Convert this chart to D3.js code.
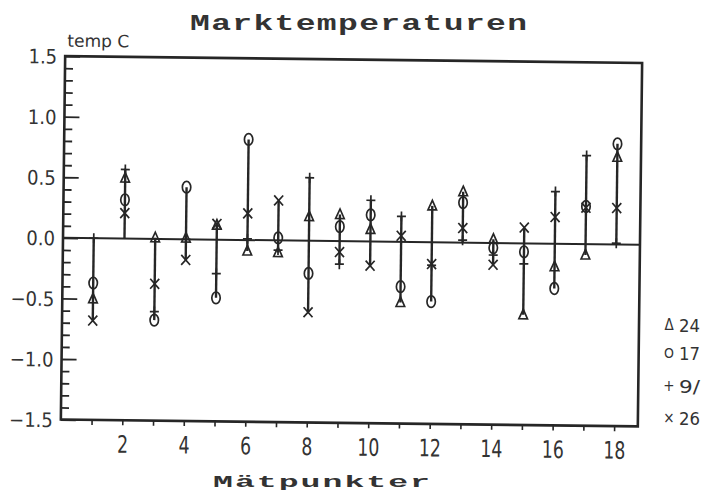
<!DOCTYPE html>
<html><head><meta charset="utf-8">
<script src="https://cdn.jsdelivr.net/npm/d3@7"></script>
<style>body{margin:0;background:#fff}svg{display:block}</style>
</head><body>
<svg id="c" width="718" height="493"></svg>
<script>
// ---- data ----
const points = [1,2,3,4,5,6,7,8,9,10,11,12,13,14,15,16,17,18];
const tri24  = [-0.50,0.50,0.01,0.01,0.12,-0.09,-0.10,0.20,0.22,0.10,-0.50,0.30,0.42,0.03,-0.59,-0.19,-0.09,0.72];
const circ17 = [-0.37,0.32,-0.67,0.43,-0.48,0.83,0.02,-0.27,0.12,0.22,-0.37,-0.49,0.33,-0.04,-0.07,-0.37,0.31,0.83];
const plus9  = [0.00,0.57,-0.60,0.00,-0.28,0.01,-0.08,0.52,-0.19,0.34,0.21,-0.19,0.02,-0.10,-0.17,0.43,0.73,0.01];
const x26    = [-0.68,0.21,-0.37,-0.17,0.13,0.22,0.33,-0.59,-0.09,-0.20,0.05,-0.18,0.12,-0.18,0.13,0.22,0.30,0.30];
const xTickValues = [1,2,3,4,5,6,7,8,9,10,11,12,13,14,15,16,17,18];
const yMajorTicks = [-1.5,-1.0,-0.5,0.0,0.5,1.0,1.5];
const legendSymbols = ["\u0394","O","+","\u00D7"];
const legendLabels = ["24","17","9/","26"];
const titleText = "Marktemperaturen";
const xTitle = "M\u00E4tpunkter";
const yTitle = "temp C";

const ink = "#262626";
const svg = d3.select("#c");
svg.append("rect").attr("width",718).attr("height",493).attr("fill","#fff");

const x = d3.scaleLinear().domain([0,18.77]).range([63,640]);
const y = d3.scaleLinear().domain([-1.5,1.5]).range([423,59.5]);

// whole plot drawn slightly tilted, like the scan
const g = svg.append("g").attr("transform","rotate(0.68,350,240)");

// minor y ticks
const yMinor = d3.range(-15,16).map(v=>v/10).filter(v=>Math.abs(v*10)%5!==0);
const axMinor = g.append("g").attr("transform",`translate(${x(0)},0)`)
  .call(d3.axisLeft(y).tickValues(yMinor).tickSizeInner(-8).tickSizeOuter(0).tickFormat(""));
axMinor.select(".domain").remove();
axMinor.selectAll("line").attr("stroke",ink).attr("stroke-width",1.8);

const axMajor = g.append("g").attr("transform",`translate(${x(0)},0)`)
  .call(d3.axisLeft(y).tickValues(yMajorTicks).tickSizeInner(-15).tickSizeOuter(0).tickPadding(8).tickFormat(d3.format(".1f")));
axMajor.select(".domain").remove();
axMajor.selectAll("line").attr("stroke",ink).attr("stroke-width",1.8);
axMajor.selectAll("text").attr("fill","#333").attr("font-family","'DejaVu Sans Condensed','DejaVu Sans',sans-serif")
  .attr("font-size",20).attr("dy","0.36em");

const axX = g.append("g").attr("transform",`translate(0,${y(-1.5)})`)
  .call(d3.axisBottom(x).tickValues(xTickValues).tickSize(5).tickPadding(10.5).tickFormat(d=> d%2===0 ? d : ""));
axX.select(".domain").remove();
axX.selectAll("line").attr("stroke",ink).attr("stroke-width",1.6);
axX.selectAll("text").attr("fill","#333").attr("font-family","'DejaVu Sans Condensed','DejaVu Sans',sans-serif")
  .attr("font-size",24)
  .each(function(d){ const s=String(d); if(s.length && d%2===0){ d3.select(this).attr("textLength", s.length*11).attr("lengthAdjust","spacingAndGlyphs"); } });

// frame
g.append("rect").attr("x",x(0)).attr("y",y(1.5)).attr("width",x(18.77)-x(0)).attr("height",y(-1.5)-y(1.5))
  .attr("fill","none").attr("stroke",ink).attr("stroke-width",2.6);

// zero line
g.append("line").attr("x1",x(0)).attr("x2",x(18.77)).attr("y1",y(0)).attr("y2",y(0))
  .attr("stroke",ink).attr("stroke-width",2);

// y title
g.append("text").attr("x",65).attr("y",50).text(yTitle).attr("fill","#333")
  .attr("font-family","'DejaVu Sans Condensed','DejaVu Sans',sans-serif").attr("font-size",17)
  .attr("textLength",62).attr("lengthAdjust","spacingAndGlyphs");

// range lines
const rows = points.map((p,i)=>({p, v:[tri24[i],circ17[i],plus9[i],x26[i]]}));
g.selectAll("line.rng").data(rows).join("line").attr("class","rng")
  .attr("x1",d=>x(d.p)).attr("x2",d=>x(d.p))
  .attr("y1",d=>y(Math.max(0,...d.v))).attr("y2",d=>y(Math.min(0,...d.v)))
  .attr("stroke",ink).attr("stroke-width",2.4);

// markers
const mk = g.append("g").attr("fill","none").attr("stroke",ink).attr("stroke-width",1.7);
mk.selectAll("path.tri").data(points.map((p,i)=>[p,tri24[i]])).join("path").attr("class","tri")
  .attr("d",d=>{const cx=x(d[0]),cy=y(d[1]);return `M${cx},${cy-5.5}L${cx+4.3},${cy+4}L${cx-4.3},${cy+4}Z`;});
mk.selectAll("ellipse").data(points.map((p,i)=>[p,circ17[i]])).join("ellipse")
  .attr("cx",d=>x(d[0])).attr("cy",d=>y(d[1])).attr("rx",4.2).attr("ry",5.8);
mk.selectAll("path.plus").data(points.map((p,i)=>[p,plus9[i]])).join("path").attr("class","plus")
  .attr("d",d=>{const cx=x(d[0]),cy=y(d[1]);return `M${cx-4.5},${cy}H${cx+4.5}M${cx},${cy-5}V${cy+5}`;});
mk.selectAll("path.cross").data(points.map((p,i)=>[p,x26[i]])).join("path").attr("class","cross")
  .attr("d",d=>{const cx=x(d[0]),cy=y(d[1]);return `M${cx-4.5},${cy-5}L${cx+4.5},${cy+5}M${cx+4.5},${cy-5}L${cx-4.5},${cy+5}`;});

// title and x title (wide typewriter look: glyphs widened, then spaced)
const tScale = 1.5;
svg.append("g").attr("transform",`translate(190,30) scale(${tScale},1)`)
  .append("text").attr("x",0).attr("y",0).text(titleText).attr("fill","#333")
  .attr("font-family","'Liberation Mono',monospace").attr("font-weight","bold").attr("font-size",22)
  .attr("textLength",337/tScale).attr("lengthAdjust","spacing");
const xScaleT = 1.95;
svg.append("g").attr("transform",`translate(213,487) scale(${xScaleT},1)`)
  .append("text").attr("x",0).attr("y",0).text(xTitle).attr("fill","#333")
  .attr("font-family","'Liberation Mono',monospace").attr("font-weight","bold").attr("font-size",17)
  .attr("textLength",217/xScaleT).attr("lengthAdjust","spacing");

// legend
const legY = [325,353,386,418];
const leg = svg.append("g").attr("fill","#333").attr("font-family","'DejaVu Sans Condensed','DejaVu Sans',sans-serif");
leg.selectAll("text.sym").data(legendSymbols).join("text").attr("class","sym")
  .attr("x",669).attr("y",(d,i)=>legY[i]).attr("dy","0.36em").attr("text-anchor","middle")
  .attr("font-size",(d,i)=> i===1?14:15).text(d=>d);
leg.selectAll("text.lab").data(legendLabels).join("text").attr("class","lab")
  .attr("x",679).attr("y",(d,i)=>legY[i]).attr("dy","0.38em")
  .attr("font-size",18).attr("textLength",21).attr("lengthAdjust","spacingAndGlyphs").text(d=>d);
</script>
</body></html>
